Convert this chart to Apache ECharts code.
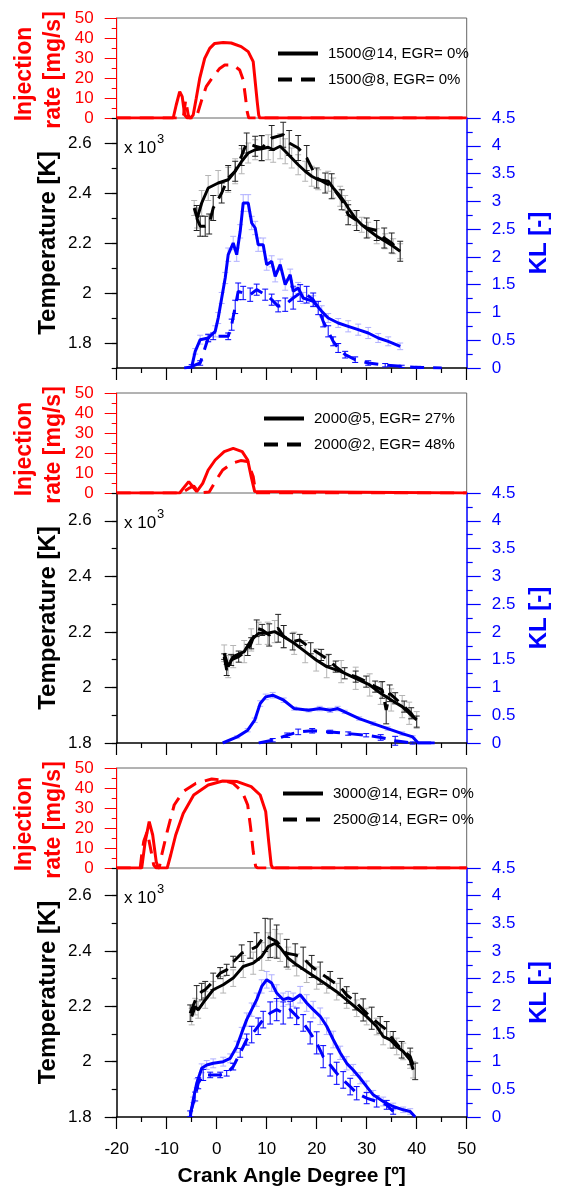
<!DOCTYPE html>
<html>
<head>
<meta charset="utf-8">
<script src="https://cdn.jsdelivr.net/npm/echarts@6/dist/echarts.min.js"></script>
<style>
html, body { margin: 0; padding: 0; background: #fff; }
#chart { width: 563px; height: 1189px; }
</style>
</head>
<body>
<div id="chart"></div>
<script>
// ---- panel 1: 1500 rpm ----
var inj1SolidX = [-20, -8.7, -8.1, -7.4, -6.9, -6.4, -5.9, -5.2, -4.7, -4.1, -3.4, -2.4, -1.4, -0.4, 1.3, 2.9, 4.9, 6.3, 7.3, 7.7, 8.1, 8.4, 8.6, 50];
var inj1SolidY = [0, 0, 6.5, 13.2, 10.7, 1.5, 0, 0, 1.5, 9.8, 19.8, 29.8, 34.8, 37.3, 37.8, 37.5, 35.7, 33.2, 28.2, 18.2, 8.2, 1.5, 0, 0];
var inj1DashX = [-20, -6.7, -6.2, -5.7, -5.4, -4.1, -3.1, -2.1, -0.7, 0.6, 1.6, 3.3, 4.6, 5.3, 5.7, 6.1, 6.4, 50];
var inj1DashY = [0, 0, 9, 1.5, 0, 0, 8.2, 15.7, 20.7, 24.8, 26.5, 26.5, 24, 19, 11.5, 3.2, 0, 0];

var temp1SolidX = [-4.5, -3.9, -3.0, -1.7, 0.3, 2.3, 3.7, 5.0, 6.3, 7.7, 9.0, 10.3, 11.3, 12.7, 13.7, 15.0, 16.3, 17.7, 19.0, 20.3, 22.3, 23.3, 24.7, 25.7, 26.3, 27.7, 29.0, 30.3, 32.0, 33.7, 35.3, 36.7];
var temp1SolidY = [2.34, 2.30, 2.36, 2.42, 2.44, 2.453, 2.487, 2.527, 2.56, 2.573, 2.577, 2.583, 2.573, 2.587, 2.567, 2.54, 2.513, 2.487, 2.467, 2.453, 2.447, 2.42, 2.387, 2.36, 2.34, 2.30, 2.273, 2.253, 2.227, 2.207, 2.187, 2.167];
var temp1SolidErr = [0.03, 0.04, 0.05, 0.05, 0.05, 0.05, 0.05, 0.05, 0.04, 0.04, 0.05, 0.05, 0.05, 0.05, 0.05, 0.04, 0.04, 0.04, 0.04, 0.04, 0.04, 0.04, 0.04, 0.03, 0.03, 0.03, 0.03, 0.03, 0.03, 0.03, 0.03, 0.03];
var temp1DashX = [-4.0, -3.3, -2.3, -1.5, -0.7, 1.0, 2.3, 3.7, 5.0, 6.0, 7.7, 9.0, 11.0, 13.3, 14.5, 16.3, 18.0, 20.0, 21.7, 23.0, 25.0, 26.3, 28.0, 30.0, 32.0, 33.5, 35.0, 36.7];
var temp1DashY = [2.30, 2.267, 2.267, 2.276, 2.34, 2.40, 2.46, 2.487, 2.55, 2.60, 2.587, 2.58, 2.62, 2.633, 2.60, 2.58, 2.54, 2.46, 2.44, 2.427, 2.373, 2.313, 2.29, 2.26, 2.25, 2.22, 2.20, 2.167];
var temp1DashErr = [0.05, 0.04, 0.04, 0.04, 0.05, 0.04, 0.05, 0.04, 0.04, 0.04, 0.04, 0.05, 0.05, 0.05, 0.05, 0.05, 0.05, 0.04, 0.04, 0.05, 0.04, 0.04, 0.04, 0.04, 0.04, 0.04, 0.04, 0.04];

var kl1SolidX = [-6.5, -5.0, -4.3, -3.3, -1.7, -0.3, 0.3, 1.0, 1.7, 2.3, 3.3, 4.0, 4.7, 5.3, 6.3, 7.0, 7.7, 8.3, 9.3, 10.0, 11.0, 11.7, 12.7, 13.7, 14.7, 15.3, 16.3, 17.3, 19.3, 21.0, 22.3, 24.3, 26.3, 28.3, 30.3, 32.3, 34.3, 36.7];
var kl1SolidY = [0, 0.02, 0.3, 0.51, 0.54, 0.66, 0.9, 1.26, 1.62, 2.04, 2.25, 2.04, 2.46, 2.97, 2.97, 2.61, 2.52, 2.22, 2.22, 1.86, 1.92, 1.65, 1.86, 1.5, 1.68, 1.38, 1.44, 1.26, 1.2, 1.02, 0.9, 0.81, 0.75, 0.69, 0.63, 0.54, 0.48, 0.39];
var kl1SolidErr = [0, 0, 0.05, 0.08, 0.08, 0.1, 0.1, 0.1, 0.1, 0.12, 0.12, 0.12, 0.12, 0.15, 0.15, 0.12, 0.12, 0.12, 0.12, 0.1, 0.1, 0.1, 0.1, 0.1, 0.1, 0.1, 0.1, 0.1, 0.1, 0.1, 0.08, 0.08, 0.1, 0.1, 0.1, 0.08, 0.08, 0.06];
var kl1DashX = [-5.0, -3.3, -1.7, -0.7, 2.3, 3.0, 3.7, 4.3, 5.3, 6.7, 8.0, 9.7, 11.0, 12.3, 13.7, 15.3, 16.7, 18.0, 19.3, 20.3, 21.3, 22.3, 23.3, 24.3, 25.7, 27.7, 30.3, 33.7, 37.0, 40.3, 45.0];
var kl1DashY = [0.03, 0.09, 0.54, 0.57, 0.57, 0.78, 1.1, 1.38, 1.35, 1.32, 1.41, 1.32, 1.23, 1.11, 1.14, 1.26, 1.35, 1.32, 1.23, 1.08, 0.84, 0.66, 0.48, 0.36, 0.24, 0.15, 0.09, 0.05, 0.03, 0.01, 0];
var kl1DashErr = [0.03, 0.04, 0.06, 0.06, 0.06, 0.1, 0.12, 0.15, 0.12, 0.12, 0.1, 0.1, 0.1, 0.1, 0.12, 0.2, 0.15, 0.15, 0.12, 0.12, 0.1, 0.1, 0.08, 0.08, 0.06, 0.05, 0.04, 0.03, 0.02, 0.02, 0];

// ---- panel 2: 2000 rpm with EGR ----
var inj2SolidX = [-20, -7.4, -6.7, -5.6, -4.9, -4.0, -3.7, -2.8, -1.7, -0.3, 1.5, 3.3, 5.1, 6.2, 6.9, 7.6, 7.8, 50];
var inj2SolidY = [0, 0, 2.3, 5.7, 3.5, 0.7, 0, 4.8, 11.5, 16.5, 20.7, 22.3, 20.7, 16.5, 8.2, 0.7, 0, 0];
var inj2DashX = [-20, -7.0, -5.6, -4.6, -3.9, -3.3, -1.5, 0.1, 1.2, 3.0, 4.8, 6.2, 7.3, 7.8, 50];
var inj2DashY = [0, 0, 2.3, 3.5, 1.3, 0, 0.5, 7.3, 11.5, 14.8, 16.2, 15.7, 8.2, 0, 0];

var temp2SolidX = [1.5, 2.3, 3.3, 5.5, 6.9, 8.4, 10.2, 11.6, 13.4, 15.5, 17.7, 19.9, 22.0, 24.9, 27.8, 30.6, 32.8, 34.9, 37.1, 38.5, 40.0];
var temp2SolidY = [2.123, 2.075, 2.111, 2.129, 2.171, 2.195, 2.195, 2.201, 2.183, 2.159, 2.129, 2.099, 2.075, 2.057, 2.033, 2.009, 1.979, 1.955, 1.931, 1.907, 1.883];
var temp2SolidErr = [0.03, 0.04, 0.04, 0.04, 0.04, 0.04, 0.04, 0.04, 0.04, 0.04, 0.04, 0.04, 0.04, 0.04, 0.04, 0.04, 0.04, 0.04, 0.04, 0.04, 0.03];
var temp2DashX = [1.5, 2.0, 2.9, 4.4, 6.2, 6.9, 8.0, 9.1, 10.5, 12.3, 13.4, 15.2, 16.6, 18.8, 20.9, 22.4, 23.8, 25.6, 27.8, 29.9, 31.7, 33.1, 33.9, 34.6, 35.7, 37.5, 38.9, 40.0];
var temp2DashY = [2.111, 2.063, 2.099, 2.111, 2.135, 2.159, 2.213, 2.207, 2.189, 2.213, 2.183, 2.165, 2.171, 2.141, 2.117, 2.099, 2.075, 2.051, 2.039, 2.021, 2.003, 1.991, 1.919, 1.979, 1.961, 1.931, 1.907, 1.877];
var temp2DashErr = [0.01, 0.02, 0.02, 0.02, 0.02, 0.02, 0.03, 0.02, 0.04, 0.05, 0.04, 0.03, 0.02, 0.02, 0.02, 0.02, 0.02, 0.02, 0.02, 0.02, 0.02, 0.03, 0.05, 0.03, 0.02, 0.02, 0.02, 0.02];

var kl2SolidX = [1.2, 4.1, 6.2, 7.6, 8.7, 9.8, 11.2, 13.4, 15.5, 18.4, 20.6, 22.7, 24.2, 25.6, 28.5, 31.3, 34.2, 37.1, 39.2, 40.3, 43.6];
var kl2SolidY = [0, 0.11, 0.23, 0.41, 0.71, 0.83, 0.86, 0.77, 0.62, 0.59, 0.62, 0.59, 0.62, 0.56, 0.44, 0.35, 0.26, 0.17, 0.11, 0, 0];
var kl2SolidErr = [0, 0.02, 0.03, 0.04, 0.05, 0.05, 0.05, 0.04, 0.03, 0.03, 0.04, 0.04, 0.04, 0.03, 0.03, 0.03, 0.03, 0.03, 0.02, 0, 0];
var kl2DashX = [8.4, 11.2, 14.1, 16.3, 19.1, 22.7, 26.3, 29.9, 32.8, 35.7, 39.2, 43.6];
var kl2DashY = [0, 0.05, 0.14, 0.2, 0.22, 0.2, 0.17, 0.14, 0.1, 0.04, 0, 0];
var kl2DashErr = [0, 0.03, 0.04, 0.05, 0.04, 0.03, 0.03, 0.03, 0.05, 0.08, 0.02, 0];

// ---- panel 3: 3000 / 2500 rpm ----
var inj3SolidX = [-20, -15.0, -14.3, -13.5, -12.8, -12.1, -11.7, -9.9, -9.2, -8.2, -6.7, -4.6, -1.7, 1.2, 4.1, 6.9, 8.7, 9.8, 10.4, 10.9, 11.2, 50];
var inj3SolidY = [0, 0, 13.2, 23.2, 16.5, 3.2, 0, 0, 6.5, 16.5, 27.3, 36.5, 41.5, 43.5, 43.2, 40.7, 36.5, 28.2, 13.2, 1.5, 0, 0];
var inj3DashX = [-20, -15.3, -15.0, -14.6, -13.9, -13.1, -12.6, -12.1, -11.5, -11.0, -9.9, -8.5, -6.7, -4.2, -1.0, 1.2, 3.3, 5.1, 6.2, 6.8, 7.3, 7.8, 8.2, 50];
var inj3DashY = [0, 0, 6.5, 13.2, 18.2, 8.2, 1.5, 0, 0, 6.5, 18.2, 31.5, 38.2, 42.3, 44.5, 44, 42.3, 38.2, 31.5, 19.8, 8.2, 0.7, 0, 0];

var temp3SolidX = [-5.0, -4.3, -3.7, -2.3, -0.7, 1.3, 3.3, 5.3, 7.3, 9.0, 10.3, 11.7, 12.7, 14.3, 16.0, 18.0, 20.0, 22.0, 24.0, 26.0, 28.0, 30.0, 32.0, 33.3, 34.7, 36.0, 37.3, 38.7, 39.3];
var temp3SolidY = [2.163, 2.199, 2.187, 2.223, 2.26, 2.278, 2.302, 2.344, 2.356, 2.38, 2.416, 2.428, 2.412, 2.374, 2.35, 2.326, 2.302, 2.278, 2.253, 2.223, 2.193, 2.163, 2.127, 2.091, 2.079, 2.055, 2.037, 2.006, 1.971];
var temp3SolidErr = [0.03, 0.03, 0.03, 0.03, 0.03, 0.03, 0.03, 0.04, 0.04, 0.05, 0.05, 0.05, 0.05, 0.04, 0.04, 0.04, 0.04, 0.03, 0.03, 0.03, 0.03, 0.03, 0.03, 0.03, 0.03, 0.03, 0.03, 0.03, 0.03];
var temp3DashX = [-5.3, -4.0, -3.0, -2.3, -0.7, 0.7, 2.0, 3.3, 5.0, 6.7, 8.0, 9.7, 10.7, 12.0, 14.0, 15.7, 17.3, 19.0, 20.7, 22.7, 24.7, 26.0, 27.7, 29.3, 31.0, 32.7, 34.0, 35.3, 37.0, 38.7, 39.7];
var temp3DashY = [2.175, 2.235, 2.253, 2.26, 2.29, 2.32, 2.332, 2.361, 2.392, 2.404, 2.416, 2.458, 2.446, 2.434, 2.392, 2.386, 2.374, 2.344, 2.32, 2.296, 2.271, 2.241, 2.217, 2.187, 2.157, 2.133, 2.115, 2.079, 2.043, 2.019, 1.965];
var temp3DashErr = [0.03, 0.04, 0.03, 0.03, 0.03, 0.02, 0.02, 0.02, 0.03, 0.03, 0.05, 0.06, 0.07, 0.06, 0.05, 0.04, 0.04, 0.04, 0.04, 0.03, 0.03, 0.03, 0.03, 0.04, 0.04, 0.03, 0.03, 0.03, 0.03, 0.03, 0.03];

var kl3SolidX = [-5.3, -4.7, -4.0, -3.0, -2.0, -0.7, 1.3, 2.7, 4.0, 5.0, 6.0, 7.0, 8.0, 9.0, 10.0, 11.0, 12.0, 13.3, 14.3, 15.3, 16.7, 18.0, 19.3, 20.7, 22.0, 23.3, 24.7, 26.0, 27.3, 28.7, 30.0, 31.3, 33.3, 35.3, 37.3, 38.7, 39.7];
var kl3SolidY = [0, 0.31, 0.61, 0.88, 0.94, 0.97, 1.0, 1.06, 1.27, 1.52, 1.76, 1.94, 2.12, 2.36, 2.48, 2.42, 2.24, 2.12, 2.15, 2.12, 2.21, 2.06, 1.94, 1.82, 1.64, 1.40, 1.16, 0.97, 0.85, 0.70, 0.55, 0.40, 0.28, 0.19, 0.13, 0.10, 0];
var kl3SolidErr = [0, 0.05, 0.08, 0.08, 0.08, 0.08, 0.08, 0.08, 0.1, 0.1, 0.12, 0.12, 0.12, 0.12, 0.15, 0.15, 0.15, 0.12, 0.12, 0.12, 0.15, 0.15, 0.15, 0.15, 0.15, 0.15, 0.12, 0.12, 0.1, 0.1, 0.1, 0.08, 0.08, 0.06, 0.05, 0.05, 0];
var kl3DashX = [-5.3, -4.3, -3.7, -2.7, -1.3, 0.7, 2.0, 3.3, 4.7, 6.0, 7.0, 8.3, 9.3, 10.7, 12.0, 13.3, 14.7, 16.0, 17.3, 18.7, 20.0, 21.3, 22.7, 24.0, 25.3, 26.7, 28.0, 30.0, 32.0, 34.0, 35.3];
var kl3DashY = [0.06, 0.37, 0.61, 0.76, 0.76, 0.76, 0.79, 0.91, 1.16, 1.40, 1.49, 1.64, 1.76, 1.88, 1.94, 1.88, 1.94, 1.82, 1.70, 1.52, 1.34, 1.09, 0.94, 0.79, 0.67, 0.55, 0.43, 0.34, 0.28, 0.22, 0.10];
var kl3DashErr = [0.05, 0.08, 0.1, 0.1, 0.05, 0.05, 0.05, 0.06, 0.08, 0.1, 0.15, 0.15, 0.15, 0.2, 0.2, 0.2, 0.15, 0.15, 0.15, 0.2, 0.2, 0.2, 0.2, 0.2, 0.15, 0.15, 0.12, 0.1, 0.1, 0.08, 0.05];

var legendNames = [
    ['1500@14, EGR= 0%', '1500@8, EGR= 0%'],
    ['2000@5, EGR= 27%', '2000@2, EGR= 48%'],
    ['3000@14, EGR= 0%', '2500@14, EGR= 0%']
];
var xTicks = [-20, 50, 10];          // min, max, interval
var injTicks = [0, 50, 10];
var klTicks = [0, 4.5, 0.5];
var tempLabelValues = [1.8, 2.0, 2.2, 2.4, 2.6];

var RED = '#ff0000', BLUE = '#0000ff', BLACK = '#000000';
var FONT = '"Liberation Sans", Arial, sans-serif';
var DASH = [14, 9];

var panels = [
    { injTop: 18, tempTop: 118, tempH: 250, tMin: 1.7, legLeft: 271, legTop: 41,
      inj: [inj1SolidX, inj1SolidY, inj1DashX, inj1DashY],
      tS: [temp1SolidX, temp1SolidY, temp1SolidErr], tD: [temp1DashX, temp1DashY, temp1DashErr],
      kS: [kl1SolidX, kl1SolidY, kl1SolidErr], kD: [kl1DashX, kl1DashY, kl1DashErr] },
    { injTop: 393, tempTop: 493, tempH: 250, tMin: 1.8, legLeft: 257, legTop: 406,
      inj: [inj2SolidX, inj2SolidY, inj2DashX, inj2DashY],
      tS: [temp2SolidX, temp2SolidY, temp2SolidErr], tD: [temp2DashX, temp2DashY, temp2DashErr],
      kS: [kl2SolidX, kl2SolidY, kl2SolidErr], kD: [kl2DashX, kl2DashY, kl2DashErr] },
    { injTop: 768, tempTop: 868, tempH: 249, tMin: 1.8, legLeft: 276, legTop: 781,
      inj: [inj3SolidX, inj3SolidY, inj3DashX, inj3DashY],
      tS: [temp3SolidX, temp3SolidY, temp3SolidErr], tD: [temp3DashX, temp3DashY, temp3DashErr],
      kS: [kl3SolidX, kl3SolidY, kl3SolidErr], kD: [kl3DashX, kl3DashY, kl3DashErr] }
];

var PLOT_LEFT = 116.7, PLOT_W = 350;

function zip(xs, ys) {
    return xs.map(function (x, i) { return [x, ys[i]]; });
}
function bars(xs, ys, es) {
    var out = [];
    xs.forEach(function (x, i) {
        if (es[i] > 0) out.push([x, ys[i] - es[i], ys[i] + es[i]]);
    });
    return out;
}
function errRender(color) {
    return function (params, api) {
        var hi = api.coord([api.value(0), api.value(2)]);
        var lo = api.coord([api.value(0), api.value(1)]);
        var st = { stroke: color, lineWidth: 1 };
        return {
            type: 'group',
            children: [
                { type: 'line', shape: { x1: hi[0], y1: hi[1], x2: lo[0], y2: lo[1] }, style: st },
                { type: 'line', shape: { x1: hi[0] - 3, y1: hi[1], x2: hi[0] + 3, y2: hi[1] }, style: st },
                { type: 'line', shape: { x1: lo[0] - 3, y1: lo[1], x2: lo[0] + 3, y2: lo[1] }, style: st }
            ]
        };
    };
}
function lineSeries(name, xi, yi, data, color, dashed, width) {
    return {
        name: name, type: 'line', xAxisIndex: xi, yAxisIndex: yi, data: data,
        symbol: 'none', smooth: false, z: 3, animation: false,
        lineStyle: { color: color, width: width || 3, type: dashed ? DASH : 'solid' },
        itemStyle: { color: color }
    };
}
function errSeries(xi, yi, data, color) {
    return {
        type: 'custom', xAxisIndex: xi, yAxisIndex: yi, data: data, z: 1,
        renderItem: errRender(color), encode: { x: 0, y: [1, 2] }, animation: false, silent: true
    };
}

var grids = [], xAxes = [], yAxes = [], series = [], legends = [], graphics = [];

panels.forEach(function (p, k) {
    var gi = 2 * k, gt = 2 * k + 1;
    grids.push({ left: PLOT_LEFT, width: PLOT_W, top: p.injTop, height: p.tempTop - p.injTop,
                 show: true, borderColor: '#666', borderWidth: 1, backgroundColor: 'transparent' });
    grids.push({ left: PLOT_LEFT, width: PLOT_W, top: p.tempTop, height: p.tempH, show: false });

    xAxes.push({ gridIndex: gi, type: 'value', min: xTicks[0], max: xTicks[1], interval: xTicks[2], show: false });
    xAxes.push({
        gridIndex: gt, type: 'value', min: xTicks[0], max: xTicks[1], interval: xTicks[2],
        axisLine: { show: true, onZero: false, lineStyle: { color: BLACK, width: 1.5 } },
        axisTick: { show: true, length: 12, lineStyle: { color: BLACK, width: 1.2 } },
        minorTick: { show: true, splitNumber: 2, length: 5, lineStyle: { color: BLACK, width: 1.2 } },
        splitLine: { show: false },
        axisLabel: { show: k === 2, margin: 24, fontSize: 17, color: BLACK, fontFamily: FONT }
    });

    // injection rate axis
    yAxes.push({
        gridIndex: gi, type: 'value', position: 'left', min: injTicks[0], max: injTicks[1], interval: injTicks[2],
        axisLine: { show: true, onZero: false, lineStyle: { color: RED, width: 1 } },
        axisTick: { show: true, length: 12, lineStyle: { color: RED } },
        minorTick: { show: true, splitNumber: 2, length: 5, lineStyle: { color: RED } },
        splitLine: { show: false },
        axisLabel: { color: RED, fontSize: 17, margin: 23, fontFamily: FONT }
    });
    // temperature axis (x 10^3 K)
    yAxes.push({
        gridIndex: gt, type: 'value', position: 'left', min: p.tMin, max: 2.7, interval: 0.1,
        axisLine: { show: true, onZero: false, lineStyle: { color: BLACK, width: 1.5 } },
        axisTick: { show: true, length: 5, lineStyle: { color: BLACK, width: 1.2 } },
        splitLine: { show: false },
        axisLabel: {
            color: BLACK, fontSize: 17, margin: 25, fontFamily: FONT,
            formatter: function (v) {
                var r = Math.round(v * 10);
                return r % 2 === 0 ? String(r / 10) : '';
            }
        }
    });
    // KL axis
    yAxes.push({
        gridIndex: gt, type: 'value', position: 'right', min: klTicks[0], max: klTicks[1], interval: klTicks[2],
        axisLine: { show: true, onZero: false, lineStyle: { color: BLUE, width: 1.5 } },
        axisTick: { show: true, length: 14, lineStyle: { color: BLUE, width: 1.2 } },
        minorTick: { show: true, splitNumber: 2, length: 6, lineStyle: { color: BLUE, width: 1.2 } },
        splitLine: { show: false },
        axisLabel: { color: BLUE, fontSize: 17, margin: 25, fontFamily: FONT }
    });
    // long ticks at the labelled temperatures
    yAxes.push({
        gridIndex: gt, type: 'value', position: 'left', min: p.tMin, max: 2.7,
        axisLine: { show: false, onZero: false },
        axisTick: { show: true, length: 12, customValues: tempLabelValues, lineStyle: { color: BLACK, width: 1.2 } },
        axisLabel: { show: false },
        splitLine: { show: false }
    });

    var xi = gi, xt = gt, yInj = 4 * k, yT = 4 * k + 1, yK = 4 * k + 2;
    series.push(lineSeries('inj-s-' + k, xi, yInj, zip(p.inj[0], p.inj[1]), RED, false));
    series.push(lineSeries('inj-d-' + k, xi, yInj, zip(p.inj[2], p.inj[3]), RED, true));

    series.push(errSeries(xt, yT, bars(p.tS[0], p.tS[1], p.tS[2]), '#b4b4b4'));
    series.push(errSeries(xt, yT, bars(p.tD[0], p.tD[1], p.tD[2]), '#222'));
    series.push(errSeries(xt, yK, bars(p.kS[0], p.kS[1], p.kS[2]), '#b0b0ff'));
    series.push(errSeries(xt, yK, bars(p.kD[0], p.kD[1], p.kD[2]), BLUE));

    series.push(lineSeries(legendNames[k][0], xt, yT, zip(p.tS[0], p.tS[1]), BLACK, false));
    series.push(lineSeries(legendNames[k][1], xt, yT, zip(p.tD[0], p.tD[1]), BLACK, true));
    series.push(lineSeries('kl-s-' + k, xt, yK, zip(p.kS[0], p.kS[1]), BLUE, false));
    series.push(lineSeries('kl-d-' + k, xt, yK, zip(p.kD[0], p.kD[1]), BLUE, true));

    legends.push({
        data: legendNames[k], orient: 'vertical', left: p.legLeft, top: p.legTop,
        itemWidth: 40, itemHeight: 14, itemGap: 11, selectedMode: false,
        itemStyle: { opacity: 0 },
        lineStyle: { width: 4 },
        textStyle: { fontSize: 15, color: BLACK, fontFamily: FONT, padding: [0, 0, 0, 5] }
    });

    var injMid = p.injTop + 50, tMid = p.tempTop + p.tempH / 2;
    graphics.push(
        { type: 'text', x: 25, y: injMid + 6, rotation: Math.PI / 2,
          style: { text: 'Injection', fill: RED, font: 'bold 23px ' + FONT, align: 'center', verticalAlign: 'middle' } },
        { type: 'text', x: 54, y: injMid + 2, rotation: Math.PI / 2,
          style: { text: 'rate [mg/s]', fill: RED, font: 'bold 23px ' + FONT, align: 'center', verticalAlign: 'middle' } },
        { type: 'text', x: 48, y: tMid, rotation: Math.PI / 2,
          style: { text: 'Temperature [K]', fill: BLACK, font: 'bold 24px ' + FONT, align: 'center', verticalAlign: 'middle' } },
        { type: 'text', x: 539, y: tMid, rotation: Math.PI / 2,
          style: { text: 'KL [-]', fill: BLUE, font: 'bold 24px ' + FONT, align: 'center', verticalAlign: 'middle' } },
        { type: 'text', x: 124, y: p.tempTop + 30,
          style: { text: 'x 10', fill: BLACK, font: '17px ' + FONT, align: 'left', verticalAlign: 'middle' } },
        { type: 'text', x: 157, y: p.tempTop + 21,
          style: { text: '3', fill: BLACK, font: '13px ' + FONT, align: 'left', verticalAlign: 'middle' } }
    );
});

graphics.push({ type: 'text', x: 291.7, y: 1176,
    style: { text: 'Crank Angle Degree [º]', fill: BLACK, font: 'bold 21px ' + FONT, align: 'center', verticalAlign: 'middle' } });

var chart = echarts.init(document.getElementById('chart'), null, { renderer: 'canvas' });
chart.setOption({
    backgroundColor: '#fff',
    animation: false,
    grid: grids,
    xAxis: xAxes,
    yAxis: yAxes,
    legend: legends,
    graphic: graphics,
    series: series
});
</script>
</body>
</html>
